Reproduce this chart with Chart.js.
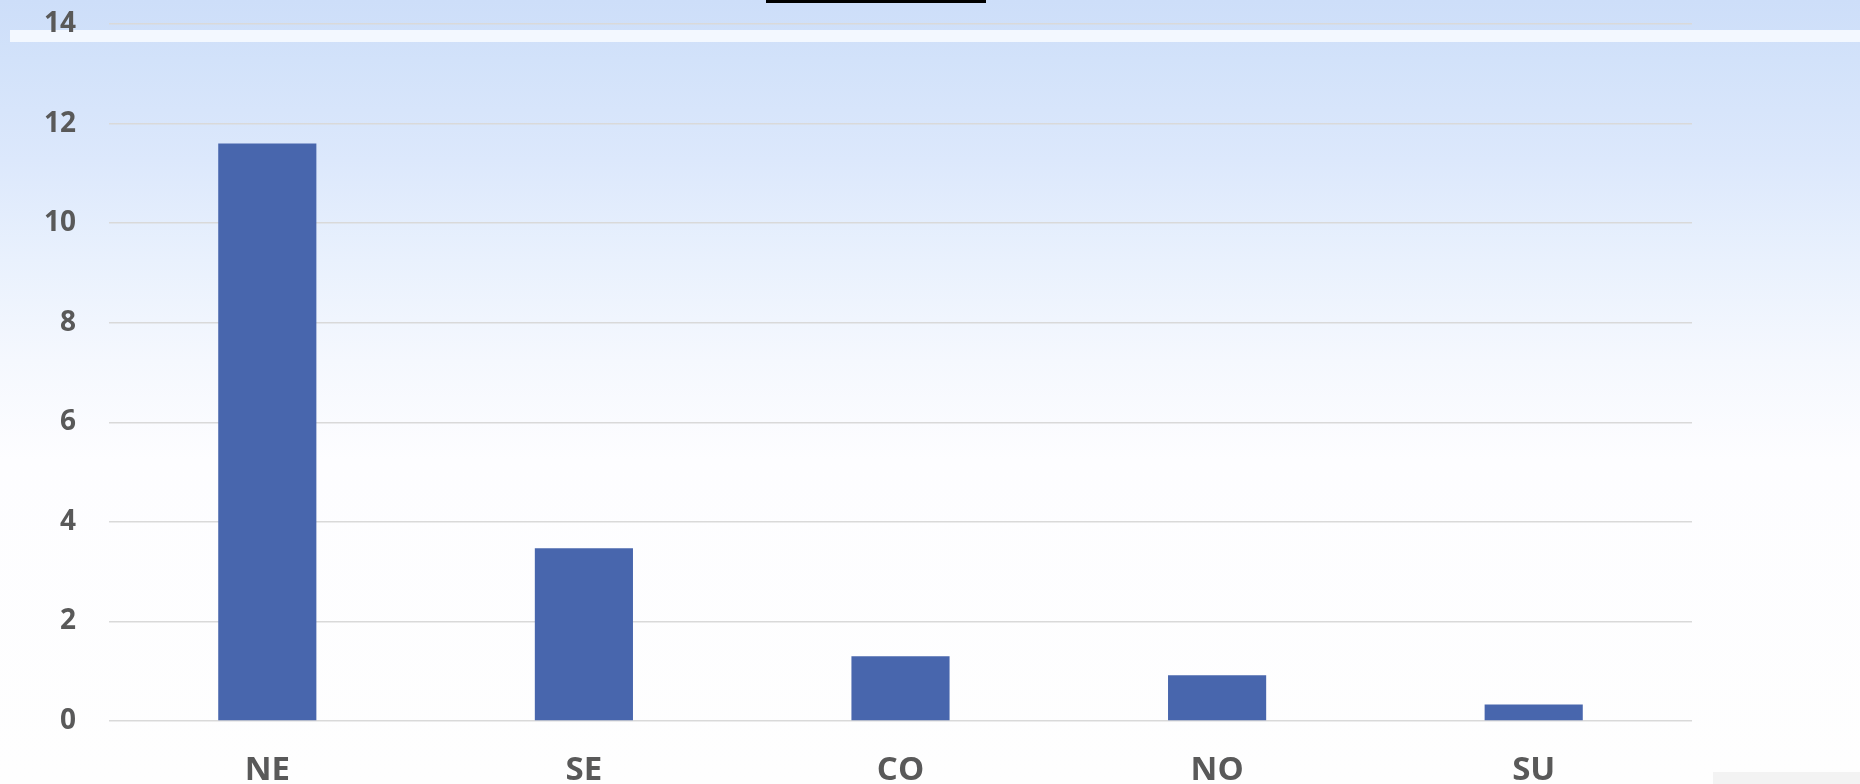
<!DOCTYPE html>
<html>
<head>
<meta charset="utf-8">
<script src="https://cdn.jsdelivr.net/npm/chart.js@4/dist/chart.umd.min.js"></script>
<style>
html,body{margin:0;padding:0;background:#fff;overflow:hidden;}
#wrap{width:1860px;height:784px;position:relative;}
canvas{display:block;}
</style>
</head>
<body>
<div id="wrap"><canvas id="c" width="1860" height="784"></canvas></div>
<script>
const categories = ["NE", "SE", "CO", "NO", "SU"];
const values = [11.6, 3.47, 1.3, 0.92, 0.33];
const yTicks = [0, 2, 4, 6, 8, 10, 12, 14];

const bgPlugin = {
  id: 'bg',
  beforeDraw(chart) {
    const ctx = chart.ctx;
    const W = chart.width, H = chart.height;
    ctx.save();
    const g = ctx.createLinearGradient(0, 0, 0, H);
    g.addColorStop(0, '#cddef9');
    g.addColorStop(60/784, '#d2e2fa');
    g.addColorStop(160/784, '#dce8fc');
    g.addColorStop(260/784, '#e9f1fd');
    g.addColorStop(360/784, '#f5f8fe');
    g.addColorStop(460/784, '#fdfdff');
    g.addColorStop(1, '#fefefe');
    ctx.fillStyle = g;
    ctx.fillRect(0, 0, W, H);
    // light band near top
    ctx.fillStyle = '#f3f8ff';
    ctx.fillRect(10, 30, W - 10, 12);
    // title underline fragment
    ctx.fillStyle = '#000000';
    ctx.fillRect(766, 0, 220, 3);
    // bottom-right grey box
    ctx.fillStyle = '#f3f3f3';
    ctx.fillRect(1713, 772, W - 1713, H - 772);
    ctx.restore();
  }
};

new Chart(document.getElementById('c'), {
  type: 'bar',
  data: {
    labels: categories,
    datasets: [{
      data: values,
      backgroundColor: '#4866ad',
      borderWidth: 0,
      categoryPercentage: 1,
      barPercentage: 0.31
    }]
  },
  options: {
    responsive: false,
    animation: false,
    devicePixelRatio: 1,
    layout: { padding: { top: 24, right: 168, left: 0, bottom: 0 } },
    plugins: { legend: { display: false }, tooltip: { enabled: false }, title: { display: false } },
    scales: {
      x: {
        grid: { display: false, drawTicks: false },
        border: { display: false },
        ticks: {
          color: '#595959',
          padding: 30,
          font: { family: 'Open Sans', weight: 'bold', size: 33 }
        },
        afterFit(s) { s.height = 63; }
      },
      y: {
        min: 0,
        max: 14,
        afterBuildTicks(s) { s.ticks = yTicks.map(v => ({ value: v })); },
        grid: { color: '#d9d9d9', lineWidth: 1.5, drawTicks: true, tickLength: 33, tickColor: 'rgba(0,0,0,0)' },
        border: { display: false },
        ticks: {
          color: '#595959',
          padding: 0,
          font: { family: 'Open Sans', weight: 'bold', size: 28 }
        },
        afterFit(s) { s.width = 109; }
      }
    }
  },
  plugins: [bgPlugin]
});
</script>
</body>
</html>
